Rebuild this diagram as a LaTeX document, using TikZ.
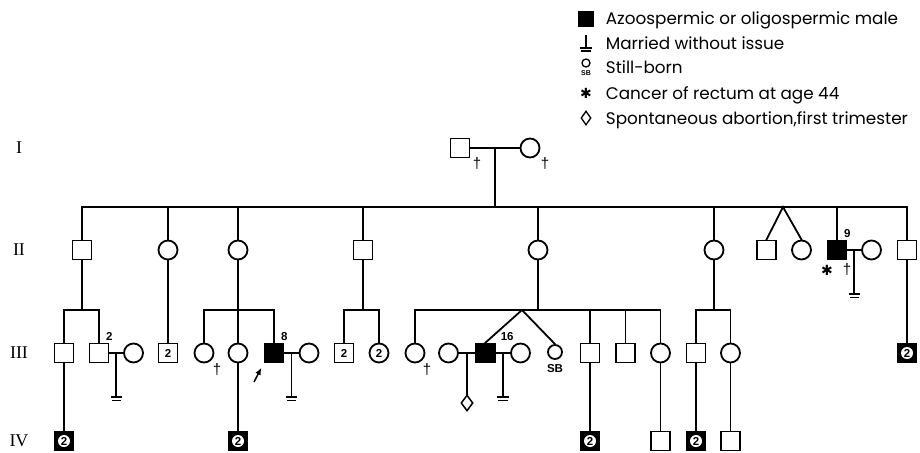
\documentclass[tikz,border=0pt]{standalone}
\usepackage{fontspec}
\setmainfont{Liberation Serif}
\newfontfamily\legfont{Poppins}
\newfontfamily\numfont{Liberation Sans}
\newfontfamily\symfont{DejaVu Sans}
\usetikzlibrary{shapes.geometric,arrows.meta,calc}
\tikzset{
  male/.style={draw,rectangle,fill=white,minimum size=19pt,inner sep=0pt},
  female/.style={draw,circle,fill=white,minimum size=19pt,inner sep=0pt},
  hit/.style={male,fill=black},
  num/.style={font=\numfont\bfseries\fontsize{11.5}{11.5}\selectfont,inner sep=0pt},
  pair/.style={num,circle,fill=white,minimum size=12pt},
  gen/.style={font=\fontsize{18}{18}\selectfont},
  dag/.style={font=\numfont\fontsize{15}{15}\selectfont,inner sep=0pt},
  ast/.style={font=\symfont\fontsize{14}{14}\selectfont,inner sep=0pt},
  leg/.style={font=\legfont\fontsize{16.8}{16.8}\selectfont,anchor=base west,inner sep=0pt},
  pics/childless/.style={code={
    \draw (0,0) -- (0,44);
    \draw[line width=1.3pt] (-5,44) -- (5,44) (-4,47.5) -- (4,47.5);}}
}
\begin{document}
\begin{tikzpicture}[x=1pt,y=-1pt,line width=1.8pt,line cap=rect]
\useasboundingbox (0,0) rectangle (920,452);
% generation numbers
\foreach \g/\y in {I/148,II/250,III/353,IV/441}
  \node[gen] (lab\g) at (19,\y) {\g};
% I
\node[male] (i1) at (460,148) {};
\node[female] (i2) at (530,148) {};
\coordinate (c1) at ($(i1)!.5!(i2)$);
\coordinate (s1) at (495,207);
\draw (i1) -- (i2);
\draw (c1) -- (s1);
% II
\foreach \n/\s/\x in {ii1/male/82,ii2/female/168,ii3/female/238,ii4/male/363,ii5/female/538,
  ii6/female/714,ii7/male/766.5,ii8/female/801.5,ii9/hit/837,ii9w/female/871.5,ii10/male/907}
  \node[\s] (\n) at (\x,250) {};
\coordinate (t1) at (783,207);
\draw (ii1.north |- s1) -- (ii10.north |- s1);
\foreach \n in {ii1,ii2,ii3,ii4,ii5,ii6,ii9,ii10}
  \draw (\n.north) -- (\n.north |- s1);
\draw (ii7.north) -- (t1) -- (ii8.north);
\draw (ii9) -- (ii9w);
\pic at ($(ii9)!.5!(ii9w)$) {childless};
\node[num,anchor=south,yshift=1.5pt] (n9) at (ii9.north east) {9};
\node[ast] (a9) at (827,270) {✱};
% III
\coordinate (y3) at (0,310);
\foreach \n/\s/\x in {iii1/male/64,iii2/male/99,iii2w/female/133.5,iii4/female/204,iii5/female/238,
  iii6/hit/274,iii6w/female/309,iii9/female/415,iii10w/female/448.5,iii10/hit/485.5,
  iii10v/female/520.5,iii12/male/590,iii13/male/625.5,iii14/female/660.5,iii15/male/696,
  iii16/female/730.5,iii17/hit/907}
  \node[\s] (\n) at (\x,353) {};
\node[male,num] (iii3) at (168,353) {2};
\node[male,num] (iii7) at (344,353) {2};
\node[female,num] (iii8) at (379,353) {2};
\node[female,minimum size=14pt] (iii11) at (555,352) {};
\foreach \p/\a/\b in {ii1/iii1/iii2,ii3/iii4/iii6,ii4/iii7/iii8,ii5/iii9/iii14,ii6/iii15/iii16} {
  \draw (\p.south) -- (\p.south |- y3);
  \draw (\a.north |- y3) -- (\b.north |- y3);
}
\foreach \n in {iii1,iii2,iii4,iii5,iii6,iii7,iii8,iii9,iii12,iii13,iii14,iii15,iii16}
  \draw (\n.north) -- (\n.north |- y3);
\draw (ii2) -- (iii3);
\draw (ii10) -- (iii17);
\coordinate (t2) at (522,310);
\draw (iii10.north) -- (t2) -- (iii11.north);
\foreach \a/\b in {iii2/iii2w,iii6/iii6w,iii10w/iii10,iii10/iii10v}
  \draw (\a) -- (\b);
\pic at ($(iii2)!.5!(iii2w)$) {childless};
\pic at ($(iii6)!.5!(iii6w)$) {childless};
\pic at ($(iii10)!.5!(iii10v)$) {childless};
\node[num,anchor=south,yshift=1.5pt] (n2) at (iii2.north east) {2};
\node[num,anchor=south,yshift=1.5pt] (n8) at (iii6.north east) {8};
\node[num,anchor=south west,xshift=4pt,yshift=1.5pt] (n16) at (iii10.north east) {16};
\node[num,below=4pt] (sb) at (iii11.south) {SB};
\coordinate (pb) at (254,382);
\draw[-{Latex[length=7pt,width=6pt]},line width=1.5pt,line cap=butt,shorten >=5pt] (pb) -- (iii6.south west);
% IV
\foreach \n/\s/\x in {iv1/hit/64,iv2/hit/238,iv4/hit/590,iv5/male/660.5,iv6/hit/696,iv7/male/730.5}
  \node[\s] (\n) at (\x,441) {};
\foreach \n in {iii17,iv1,iv2,iv4,iv6}
  \node[pair] at (\n) {2};
\node[draw,diamond,fill=white,minimum width=12pt,minimum height=16pt,inner sep=0pt,line width=1.5pt] (iv3) at (467,403) {};
\coordinate (c3) at ($(iii10w)!.5!(iii10)$);
\draw (c3) -- (iv3.north);
\foreach \a/\b in {iii1/iv1,iii5/iv2,iii12/iv4,iii14/iv5,iii15/iv6,iii16/iv7}
  \draw (\a) -- (\b);
% deaths
\foreach \x/\y in {477/164,545/164,847/270,217/370,427/370}
  \node[dag] (d\x) at (\x,\y) {†};
% legend
\node[hit,minimum size=14pt] (k1) at (586,19) {};
\coordinate (k2) at (586,36);
\coordinate (k2e) at (586,48);
\draw[line width=1.3pt] (k2) -- (k2e);
\draw[line width=1.1pt] ([xshift=-5pt]k2e) -- ([xshift=5pt]k2e)
  ([xshift=-4pt,yshift=-3pt]k2e) -- ([xshift=4pt,yshift=-3pt]k2e);
\node[female,minimum size=8pt,line width=1.3pt] (k3) at (586,63) {};
\node[num,font=\numfont\bfseries\fontsize{7}{7}\selectfont] (k3t) at (586,73) {SB};
\node[ast] (k4) at (586,93) {✱};
\node[draw,diamond,minimum width=10pt,minimum height=14pt,inner sep=0pt,line width=1.3pt] (k5) at (586,118) {};
\node[leg] (t1) at (605,25) {Azoospermic or oligospermic male};
\node[leg] (t2) at (605,50) {Married without issue};
\node[leg] (t3) at (605,74) {Still-born};
\node[leg] (t4) at (605,99) {Cancer of rectum at age 44};
\node[leg] (t5) at (605,124) {Spontaneous abortion,first trimester};
\end{tikzpicture}
\end{document}
